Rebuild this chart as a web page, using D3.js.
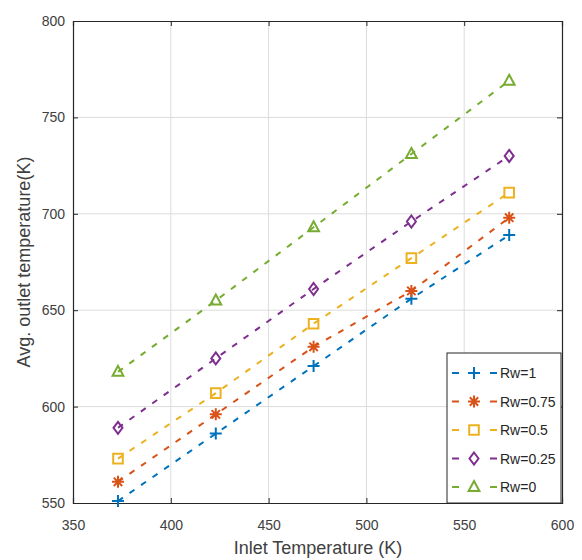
<!DOCTYPE html>
<html><head><meta charset="utf-8">
<script src="https://cdn.jsdelivr.net/npm/d3@7"></script>
<style>body{margin:0;background:#fff}svg{display:block}text{font-family:"Liberation Sans",Arial,sans-serif}</style>
</head><body><div id="chart"></div>
<script>
const inletTemps = [373, 423, 473, 523, 573];
const seriesNames = ["Rw=1", "Rw=0.75", "Rw=0.5", "Rw=0.25", "Rw=0"];
const rw1 = [551, 586, 621, 656, 689];
const rw075 = [561, 596, 631, 660, 698];
const rw05 = [573, 607, 643, 677, 711];
const rw025 = [589, 625, 661, 696, 730];
const rw0 = [618, 655, 693, 731, 769];
const xTicks = [350, 400, 450, 500, 550, 600];
const yTicks = [550, 600, 650, 700, 750, 800];
const colors = ["#0072BD", "#D95319", "#EDB120", "#7E2F8E", "#77AC30"];
const markers = ["plus", "star", "square", "diamond", "triangle"];
const allSeries = [rw1, rw075, rw05, rw025, rw0];

const W = 582, H = 560;
const m = {left: 73, top: 21, right: 20, bottom: 57};
const svg = d3.select("#chart").append("svg").attr("width", W).attr("height", H);
const x = d3.scaleLinear().domain([350, 600]).range([m.left, W - m.right]);
const y = d3.scaleLinear().domain([550, 800]).range([H - m.bottom, m.top]);

// grid
const g = svg.append("g");
g.selectAll(".vx").data(xTicks.slice(1, -1)).enter().append("line")
  .attr("x1", d => x(d)).attr("x2", d => x(d)).attr("y1", y(550)).attr("y2", y(800))
  .attr("stroke", "#dcdcdc").attr("stroke-width", 1);
g.selectAll(".hy").data(yTicks.slice(1, -1)).enter().append("line")
  .attr("x1", x(350)).attr("x2", x(600)).attr("y1", d => y(d)).attr("y2", d => y(d))
  .attr("stroke", "#dcdcdc").attr("stroke-width", 1);

// axes
const xAxis = d3.axisBottom(x).tickValues(xTicks).tickSize(-5).tickPadding(17);
const yAxis = d3.axisLeft(y).tickValues(yTicks).tickSize(-5).tickPadding(8);
const xa = svg.append("g").attr("transform", `translate(0,${y(550)})`).call(xAxis);
const ya = svg.append("g").attr("transform", `translate(${x(350)},0)`).call(yAxis);
const xTop = svg.append("g").attr("transform", `translate(0,${y(800)})`).call(d3.axisTop(x).tickValues(xTicks).tickSize(-5).tickFormat(""));
const yRight = svg.append("g").attr("transform", `translate(${x(600)},0)`).call(d3.axisRight(y).tickValues(yTicks).tickSize(-5).tickFormat(""));
[xa, ya, xTop, yRight].forEach(a => {
  a.select(".domain").attr("stroke", "#262626").attr("stroke-width", 1.2);
  a.selectAll(".tick line").attr("stroke", "#262626");
  a.selectAll("text").attr("font-size", 14).attr("fill", "#404040")
    .attr("font-family", '"Liberation Sans",Arial,sans-serif');
});

// labels
svg.append("text").attr("x", 318).attr("y", 554).attr("text-anchor", "middle")
  .attr("font-size", 18).attr("fill", "#404040").text("Inlet Temperature (K)");
svg.append("text").attr("transform", `translate(30,${(y(550)+y(800))/2}) rotate(-90)`)
  .attr("text-anchor", "middle").attr("font-size", 18).attr("fill", "#404040")
  .text("Avg. outlet temperature(K)");

function markerPath(type, s) {
  switch (type) {
    case "plus": return `M${-s},0H${s}M0,${-s}V${s}`;
    case "star": {
      const d = s * 0.7;
      return `M${-s},0H${s}M0,${-s}V${s}M${-d},${-d}L${d},${d}M${-d},${d}L${d},${-d}`;
    }
    case "square": { const a = s * 0.8; return `M${-a},${-a}H${a}V${a}H${-a}Z`; }
    case "diamond": return `M0,${-s}L${s*0.75},0L0,${s}L${-s*0.75},0Z`;
    case "triangle": return `M0,${-s}L${s*0.9},${s*0.65}L${-s*0.9},${s*0.65}Z`;
  }
}

const line = d3.line().x((d, i) => x(inletTemps[i])).y(d => y(d));
allSeries.forEach((vals, k) => {
  svg.append("path").attr("d", line(vals)).attr("fill", "none")
    .attr("stroke", colors[k]).attr("stroke-width", 2).attr("stroke-dasharray", "6,8");
  svg.selectAll(null).data(vals).enter().append("path")
    .attr("transform", (d, i) => `translate(${x(inletTemps[i])},${y(d)})`)
    .attr("d", markerPath(markers[k], 6)).attr("fill", "none")
    .attr("stroke", colors[k]).attr("stroke-width", 2);
});

// legend
const lg = svg.append("g");
lg.append("rect").attr("x", 447).attr("y", 353).attr("width", 114).attr("height", 150)
  .attr("fill", "#fff").attr("stroke", "#262626").attr("stroke-width", 1);
seriesNames.forEach((name, k) => {
  const yy = 373 + k * 28.5;
  lg.append("line").attr("x1", 452).attr("x2", 497).attr("y1", yy).attr("y2", yy)
    .attr("stroke", colors[k]).attr("stroke-width", 2).attr("stroke-dasharray", "7,31,7");
  lg.append("path").attr("transform", `translate(474,${yy})`).attr("d", markerPath(markers[k], 6))
    .attr("fill", "none").attr("stroke", colors[k]).attr("stroke-width", 2);
  lg.append("text").attr("x", 500).attr("y", yy + 5).attr("font-size", 14)
    .attr("fill", "#262626").text(name);
});
</script></body></html>
